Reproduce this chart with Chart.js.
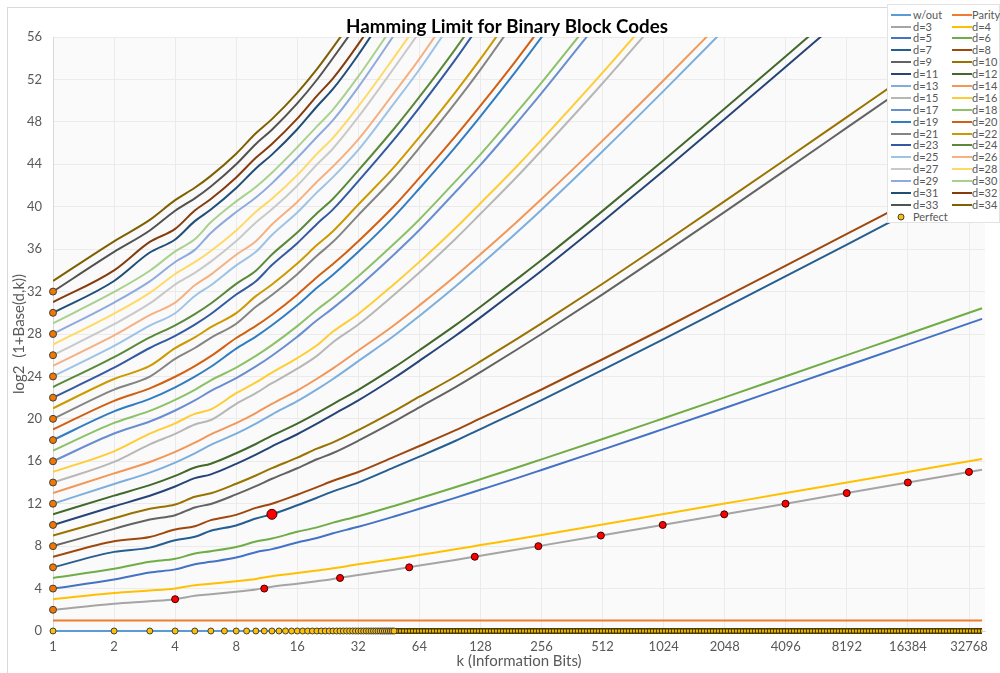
<!DOCTYPE html>
<html><head><meta charset="utf-8">
<script src="https://cdn.jsdelivr.net/npm/chart.js@4/dist/chart.umd.min.js"></script>
<style>
html,body{margin:0;padding:0;background:#fff;}
#wrap{position:relative;width:1000px;height:673px;overflow:hidden;font-family:Lato,'Liberation Sans',sans-serif;}
#frame{position:absolute;left:7px;top:7px;width:1000px;height:700px;border-left:1px solid #D9D9D9;border-top:1px solid #D9D9D9;pointer-events:none;}
#legend{position:absolute;left:887px;top:4px;width:113px;height:219px;background:#fff;border:1px solid #E3E3E3;box-sizing:border-box;}
.lt{position:absolute;height:12px;line-height:12px;font-size:11px;color:#595959;white-space:nowrap;transform:translateY(-6px);}
.ls{position:absolute;height:2px;transform:translateY(-1px);}
.lm{position:absolute;width:5px;height:5px;border-radius:50%;background:#FFC000;border:1px solid #404040;transform:translate(-3.5px,-3.5px);}
</style></head><body>
<div id="wrap"><canvas id="c" width="1000" height="673"></canvas><div id="frame"></div><div id="legend"></div></div>
<script>
// ---- data ----
const kSample = [1,2,3,4,5,6,8,10,12,16,20,24,32,48,64,96,128,192,256,512,1024,2048,4096,8192,16384,32768,38000];
const kEnds = [1, 38000];
const xTickValues = [1,2,4,8,16,32,64,128,256,512,1024,2048,4096,8192,16384,32768];

const yWithout = [0, 0];
const yParity = [1, 1];
const d3  = [2, 2.58, 2.81, 3, 3.32, 3.46, 3.7, 3.91, 4.17, 4.46, 4.7, 4.91, 5.29, 5.78, 6.17, 6.7, 7.1, 7.65, 8.05, 9.03, 10.02, 11.01, 12.0, 13.0, 14.0, 15.0, 15.21];
const d4  = [3, 3.58, 3.81, 4, 4.32, 4.46, 4.7, 4.91, 5.17, 5.46, 5.7, 5.91, 6.29, 6.78, 7.17, 7.7, 8.1, 8.65, 9.05, 10.03, 11.02, 12.01, 13.0, 14.0, 15.0, 16.0, 16.21];
const d5  = [4, 4.86, 5.52, 5.81, 6.3, 6.52, 6.92, 7.43, 7.72, 8.35, 8.77, 9.22, 9.82, 10.79, 11.52, 12.55, 13.31, 14.39, 15.18, 17.1, 19.06, 21.03, 23.02, 25.01, 27.0, 29.0, 29.43];
const d6  = [5, 5.86, 6.52, 6.81, 7.3, 7.52, 7.92, 8.43, 8.72, 9.35, 9.77, 10.22, 10.82, 11.79, 12.52, 13.55, 14.31, 15.39, 16.18, 18.1, 20.06, 22.03, 24.02, 26.01, 28.0, 30.0, 30.43];
const d7  = [6, 7.46, 7.86, 8.56, 8.88, 9.45, 9.95, 10.61, 11.0, 11.85, 12.56, 13.16, 13.99, 15.42, 16.44, 17.91, 19.04, 20.62, 21.77, 24.62, 27.52, 30.48, 33.45, 36.43, 39.43, 42.42, 43.06];
const d8  = [7, 8.46, 8.86, 9.56, 9.88, 10.45, 10.95, 11.61, 12.0, 12.85, 13.56, 14.16, 14.99, 16.42, 17.44, 18.91, 20.04, 21.62, 22.77, 25.62, 28.52, 31.48, 34.45, 37.43, 40.43, 43.42, 44.06];
const d9  = [8, 9.63, 10.52, 10.92, 11.65, 11.98, 12.88, 13.66, 14.35, 15.34, 16.19, 16.78, 17.94, 19.73, 21.09, 22.97, 24.41, 26.49, 28.0, 31.74, 35.6, 39.52, 43.47, 47.45, 51.43, 55.42, 56.28];
const d10 = [9, 10.63, 11.52, 11.92, 12.65, 12.98, 13.88, 14.66, 15.35, 16.34, 17.19, 17.78, 18.94, 20.73, 22.09, 23.97, 25.41, 27.49, 29.0, 32.74, 36.6, 40.52, 44.47, 48.45, 52.43, 56.42];
const d11 = [10, 11.76, 12.75, 13.62, 14.41, 14.77, 15.76, 16.63, 17.41, 18.55, 19.54, 20.4, 21.74, 23.85, 25.47, 27.81, 29.57, 32.13, 33.97, 38.61, 43.39, 48.26, 53.19, 58.15];
const d12 = [11, 12.76, 13.75, 14.62, 15.41, 15.77, 16.76, 17.63, 18.41, 19.55, 20.54, 21.4, 22.74, 24.85, 26.47, 28.81, 30.57, 33.13, 34.97, 39.61, 44.39, 49.26, 54.19, 59.15];
const d13 = [12, 13.86, 14.93, 15.88, 16.75, 17.54, 18.6, 19.55, 20.41, 21.67, 22.78, 23.76, 25.44, 27.83, 29.7, 32.45, 34.52, 37.52, 39.72, 45.23, 50.92, 56.75];
const d14 = [13, 14.86, 15.93, 16.88, 17.75, 18.54, 19.6, 20.55, 21.41, 22.67, 23.78, 24.76, 26.44, 28.83, 30.7, 33.45, 35.52, 38.52, 40.72, 46.23, 51.92, 57.75];
const d15 = [14, 15.94, 17.6, 18.58, 19.47, 19.89, 21.42, 22.43, 23.36, 24.73, 25.94, 27.23, 28.89, 31.7, 33.8, 36.94, 39.33, 42.75, 45.3, 51.64, 58.25];
const d16 = [15, 16.94, 18.6, 19.58, 20.47, 20.89, 22.42, 23.43, 24.36, 25.73, 26.94, 28.23, 29.89, 32.7, 34.8, 37.94, 40.33, 43.75, 46.3, 52.64, 59.25];
const d17 = [16, 18.62, 19.75, 20.79, 21.74, 22.63, 23.84, 24.94, 25.95, 27.74, 29.29, 30.44, 32.44, 35.5, 37.8, 41.36, 43.94, 47.84, 50.7, 57.89];
const d18 = [17, 19.62, 20.75, 21.79, 22.74, 23.63, 24.84, 25.94, 26.95, 28.74, 30.29, 31.44, 33.44, 36.5, 38.8, 42.36, 44.94, 48.84, 51.7, 58.89];
const d19 = [18, 20.7, 21.88, 22.97, 23.98, 24.91, 26.62, 27.76, 28.82, 30.71, 32.36, 33.59, 35.75, 39.07, 41.72, 45.6, 48.52, 52.8, 55.98, 63.96];
const d20 = [19, 21.7, 22.88, 23.97, 24.98, 25.91, 27.62, 28.76, 29.82, 31.71, 33.36, 34.59, 36.75, 40.07, 42.72, 46.6, 49.52, 53.8, 56.98];
const d21 = [20, 22.76, 23.99, 25.66, 26.68, 27.64, 28.97, 30.57, 31.67, 33.64, 35.38, 36.69, 39.21, 42.73, 45.56, 49.76, 52.93, 57.67];
const d22 = [21, 23.76, 24.99, 26.66, 27.68, 28.64, 29.97, 31.57, 32.67, 34.64, 36.38, 37.69, 40.21, 43.73, 46.56, 50.76, 53.93, 58.67];
const d23 = [22, 24.82, 26.68, 27.82, 28.88, 29.88, 31.72, 32.97, 34.5, 36.56, 38.38, 39.75, 42.42, 46.35, 49.35, 53.84, 57.25];
const d24 = [23, 25.82, 27.68, 28.82, 29.88, 30.88, 32.72, 33.97, 35.5, 37.56, 39.38, 40.75, 43.42, 47.35, 50.35, 54.84, 58.25];
const d25 = [24, 26.87, 28.78, 29.96, 31.59, 32.6, 34.47, 35.75, 37.33, 39.45, 41.35, 42.79, 45.35, 49.74, 52.94, 57.86];
const d26 = [25, 27.87, 29.78, 30.96, 32.59, 33.6, 35.47, 36.75, 38.33, 40.45, 42.35, 43.79, 46.35, 50.74, 53.94, 58.86];
const d27 = [26, 28.92, 30.88, 32.66, 33.77, 34.82, 36.76, 38.52, 39.75, 41.98, 43.98, 45.49, 48.46, 53.08, 56.46];
const d28 = [27, 29.92, 31.88, 33.66, 34.77, 35.82, 37.76, 39.52, 40.75, 42.98, 44.98, 46.49, 49.46, 54.08, 57.46];
const d29 = [28, 30.96, 32.96, 34.79, 35.93, 37.53, 39.5, 40.86, 42.2, 44.6, 46.57, 48.16, 51.28, 56.18, 59.77];
const d30 = [29, 31.96, 33.96, 35.79, 36.93, 38.53, 40.5, 41.86, 43.2, 45.6, 47.57, 49.16, 52.28, 57.18];
const d31 = [30, 33.0, 35.68, 36.91, 38.64, 39.73, 41.76, 43.61, 44.91, 47.3, 49.45, 51.1, 54.33, 59.42];
const d32 = [31, 34.0, 36.68, 37.91, 39.64, 40.73, 42.76, 44.61, 45.91, 48.3, 50.45, 52.1, 55.33, 60.42];
const d33 = [32, 35.74, 37.76, 39.62, 40.79, 41.91, 44.0, 45.92, 47.26, 49.74, 51.97, 54.02, 57.35];
const d34 = [33, 36.74, 38.76, 40.62, 41.79, 42.91, 45.0, 46.92, 48.26, 50.74, 52.97, 55.02, 58.35];

// Perfect codes
const perfZeroK = [1,2,3,4,5,6,7,8,9,10,11,12,13,14,15,16,17,18,19,20,21,22,23,24,25,26,27,28,29,30,31,32,33,34,35,36,37,38,39,40,41,42,43,44,45,46,47,48];
const perfZeroY = [0,0,0,0,0,0,0,0,0,0,0,0,0,0,0,0,0,0,0,0,0,0,0,0,0,0,0,0,0,0,0,0,0,0,0,0,0,0,0,0,0,0,0,0,0,0,0,0];
const perfZeroBandK = [40, 38000];
const perfZeroBandY = [0, 0];
const perfRepK = [1,1,1,1,1,1,1,1,1,1,1,1,1,1,1,1];
const perfRepY = [2,4,6,8,10,12,14,16,18,20,22,24,26,28,30,32];
const perfHamK = [4,11,26,57,120,247,502,1013,2036,4083,8178,16369,32752];
const perfHamY = [3,4,5,6,7,8,9,10,11,12,13,14,15];
const perfGolayK = [12];
const perfGolayY = [11];

const seriesLabels = ['w/out','Parity','d=3','d=4','d=5','d=6','d=7','d=8','d=9','d=10','d=11','d=12','d=13','d=14','d=15','d=16','d=17','d=18','d=19','d=20','d=21','d=22','d=23','d=24','d=25','d=26','d=27','d=28','d=29','d=30','d=31','d=32','d=33','d=34'];
const seriesColors = ['#5B9BD5','#ED7D31','#A5A5A5','#FFC000','#4472C4','#70AD47','#255E91','#9E480E','#636363','#997300','#264478','#43682B','#7CAFDD','#F1975A','#B7B7B7','#FFCD33','#698ED0','#8CC168','#327DC2','#D26012','#848484','#CC9A00','#335AA1','#5A8A39','#9DC3E6','#F4B183','#C9C9C9','#FFD966','#8FAADC','#A9D18E','#1F4E79','#843C0C','#525252','#7F6000'];
const seriesValues = [yWithout,yParity,d3,d4,d5,d6,d7,d8,d9,d10,d11,d12,d13,d14,d15,d16,d17,d18,d19,d20,d21,d22,d23,d24,d25,d26,d27,d28,d29,d30,d31,d32,d33,d34];

const titleText = 'Hamming Limit for Binary Block Codes';

// ---- build ----
function pts(ks, ys){ return ys.map((y,i)=>({x:ks[i], y:y})); }

const datasets = [];
seriesValues.forEach((vals, i) => {
  datasets.push({
    label: seriesLabels[i],
    data: pts(i < 2 ? kEnds : kSample, vals),
    showLine: true,
    borderColor: seriesColors[i],
    backgroundColor: seriesColors[i],
    borderWidth: 2,
    pointRadius: 0,
    cubicInterpolationMode: 'monotone',
    order: 100 - i,
    clip: i === 0 ? false : undefined
  });
});
// dense perfect (trivial) band
datasets.push({label:'PerfectBandEdge', data: pts(perfZeroBandK, perfZeroBandY), showLine:true, borderColor:'#4a3c05', borderWidth:6, pointRadius:0, order:3, clip:false});
datasets.push({label:'PerfectBand', data: pts(perfZeroBandK, perfZeroBandY), showLine:true, borderColor:'#E8B100', borderWidth:3, borderDash:[2,1], pointRadius:0, order:2, clip:false});
datasets.push({label:'Perfect', data: pts(perfZeroK, perfZeroY), showLine:false, pointRadius:3, pointBackgroundColor:'#FFC000', pointBorderColor:'#404040', pointBorderWidth:1, order:1, clip:false});
datasets.push({label:'Perfect rep', data: pts(perfRepK, perfRepY), showLine:false, pointRadius:3.5, pointBackgroundColor:'#F07800', pointBorderColor:'#404040', pointBorderWidth:1, order:0, clip:false});
datasets.push({label:'Perfect Hamming', data: pts(perfHamK, perfHamY), showLine:false, pointRadius:3.5, pointBackgroundColor:'#FF0000', pointBorderColor:'#3a0000', pointBorderWidth:1, order:0, clip:false});
datasets.push({label:'Perfect Golay', data: pts(perfGolayK, perfGolayY), showLine:false, pointRadius:5, pointBackgroundColor:'#FF0000', pointBorderColor:'#3a0000', pointBorderWidth:1, order:0, clip:false});

const bgPlugin = {
  id:'plotBg',
  beforeDraw(chart){
    const a = chart.chartArea, ctx = chart.ctx;
    ctx.save(); ctx.fillStyle = '#FAFAFA';
    ctx.fillRect(a.left, a.top, a.right - a.left, a.bottom - a.top);
    ctx.restore();
  }
};
const titlePlugin = {
  id:'titleText',
  afterDraw(chart){
    const ctx = chart.ctx;
    ctx.save();
    ctx.font = 'bold 19px Lato';
    const w = ctx.measureText(titleText).width;
    const fs = 19 * 322 / w;
    ctx.font = 'bold ' + fs.toFixed(2) + 'px Lato';
    ctx.fillStyle = '#000';
    ctx.textAlign = 'center';
    ctx.textBaseline = 'alphabetic';
    ctx.fillText(titleText, 507, 33);
    ctx.restore();
  }
};

Chart.defaults.font.family = 'Lato';
new Chart(document.getElementById('c'), {
  type: 'scatter',
  data: { datasets },
  options: {
    responsive: false,
    animation: false,
    devicePixelRatio: 1,
    events: [],
    layout: { padding: { top: 37, right: 15, bottom: 0, left: 0 } },
    plugins: { legend: { display: false }, tooltip: { enabled: false }, title: { display: false } },
    scales: {
      x: {
        type: 'logarithmic',
        min: 1,
        max: 39290,
        afterBuildTicks(scale){ scale.ticks = xTickValues.map(v => ({ value: v })); },
        afterFit(scale){ scale.height = 42; },
        ticks: { callback: (v) => String(v), autoSkip: false, maxRotation: 0, minRotation: 0, padding: 8, color: '#595959', font: { size: 13 } },
        grid: { color: '#EBEBEB', drawTicks: false },
        border: { color: '#D9D9D9' },
        title: { display: true, text: 'k (Information Bits)', color: '#595959', font: { size: 15 }, padding: { top: 0, bottom: 3 } }
      },
      y: {
        type: 'linear',
        min: 0,
        max: 56,
        afterFit(scale){ scale.width = 53; },
        ticks: { stepSize: 4, padding: 11, color: '#595959', font: { size: 13 } },
        grid: { color: '#EBEBEB', drawTicks: false },
        border: { color: '#D9D9D9' },
        title: { display: true, text: 'log2  (1+Base(d,k))', color: '#595959', font: { size: 15 }, padding: { top: 10.5, bottom: 0 } }
      }
    }
  },
  plugins: [bgPlugin, titlePlugin]
});

// ---- legend (HTML overlay) ----
const lg = document.getElementById('legend');
const boxLeft = 887, boxTop = 4;
function rowY(r){ return 14.7 + 11.88 * r - boxTop - 1; }
seriesLabels.forEach((lab, i) => {
  const r = Math.floor(i / 2), c = i % 2;
  const sx = c === 0 ? 891 : 952, tx = c === 0 ? 913 : 972;
  const s = document.createElement('div');
  s.className = 'ls';
  s.style.left = (sx - boxLeft - 1) + 'px';
  s.style.width = '20px';
  s.style.top = rowY(r) + 'px';
  s.style.background = seriesColors[i];
  lg.appendChild(s);
  const t = document.createElement('div');
  t.className = 'lt';
  t.style.left = (tx - boxLeft - 1) + 'px';
  t.style.top = rowY(r) + 'px';
  t.textContent = lab;
  lg.appendChild(t);
});
const pm = document.createElement('div');
pm.className = 'lm';
pm.style.left = (901 - boxLeft - 1) + 'px';
pm.style.top = rowY(17) + 'px';
lg.appendChild(pm);
const pt = document.createElement('div');
pt.className = 'lt';
pt.style.left = (913 - boxLeft - 1) + 'px';
pt.style.top = rowY(17) + 'px';
pt.textContent = 'Perfect';
lg.appendChild(pt);
</script>
</body></html>
